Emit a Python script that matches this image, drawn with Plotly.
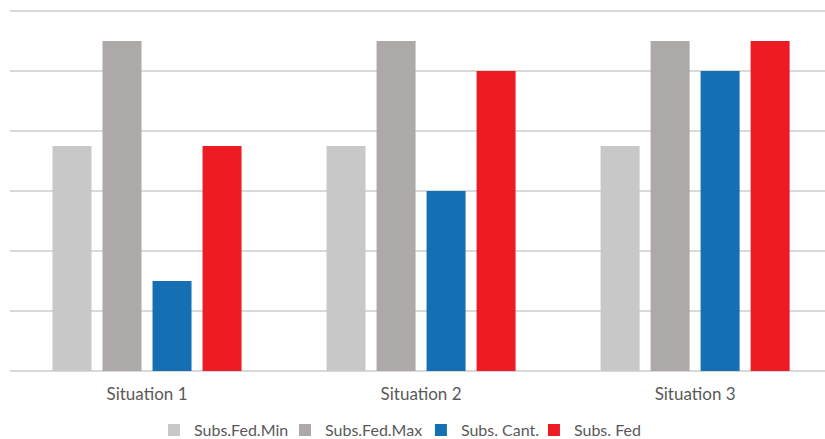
import plotly.graph_objects as go

categories = ["Situation 1", "Situation 2", "Situation 3"]
series_names = ["Subs.Fed.Min", "Subs.Fed.Max", "Subs. Cant.", "Subs. Fed"]
subs_fed_min = [3.75, 3.75, 3.75]
subs_fed_max = [5.5, 5.5, 5.5]
subs_cant = [1.5, 3.0, 5.0]
subs_fed = [3.75, 5.0, 5.5]
colors = ["#C8C8C8", "#ADA9A8", "#1570B3", "#ED1C24"]

legend_ids = ["legend", "legend2", "legend3", "legend4"]
legend_x = [0.1767, 0.3374, 0.5042, 0.6429]

fig = go.Figure()
for name, vals, col, lid in zip(series_names, [subs_fed_min, subs_fed_max, subs_cant, subs_fed], colors, legend_ids):
    fig.add_trace(go.Bar(x=categories, y=vals, name=name, legend=lid,
                         marker=dict(color=col, line=dict(width=0))))

legend_style = dict(orientation="h", xanchor="left", y=-0.163, yanchor="middle",
                    font=dict(size=16, color="#595959"), itemwidth=30,
                    bgcolor="rgba(0,0,0,0)")
legends = {lid: dict(x=lx, **legend_style) for lid, lx in zip(legend_ids, legend_x)}

fig.update_layout(
    width=825, height=439,
    margin=dict(l=10, r=0, t=8, b=68, autoexpand=False),
    paper_bgcolor="white", plot_bgcolor="white",
    barmode="group", bargap=0.27, bargroupgap=0.22,
    font=dict(family="Lato, Open Sans, sans-serif", size=16, color="#595959"),
    xaxis=dict(range=[-0.5, 2.474], showline=False, ticks="", showgrid=False,
               tickfont=dict(size=17, color="#595959"), ticklabelstandoff=11),
    yaxis=dict(range=[0, 6.05], dtick=1, showticklabels=False, gridcolor="#D9D9D9", gridwidth=1.5,
               zeroline=True, zerolinecolor="#D9D9D9", zerolinewidth=1.5),
    showlegend=True,
    **legends,
)

fig.write_html("out.html", config={"displayModeBar": False},
               post_script="document.body.style.margin='0';document.body.style.overflow='hidden';")
